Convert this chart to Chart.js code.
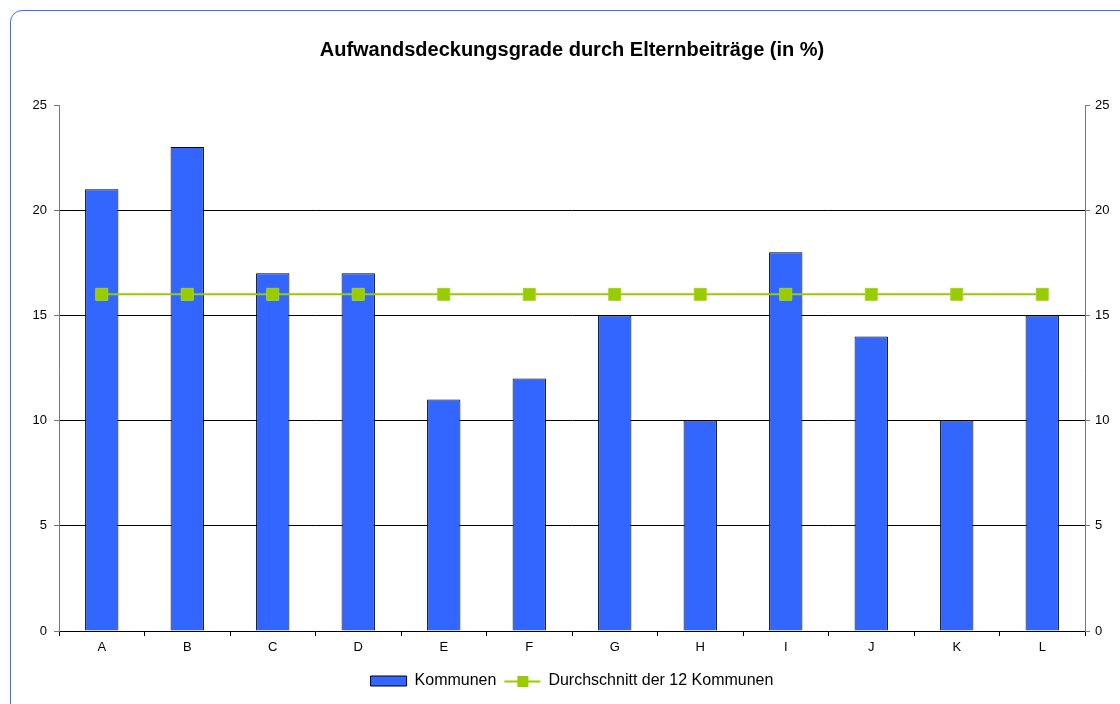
<!DOCTYPE html>
<html>
<head>
<meta charset="utf-8">
<script src="https://cdn.jsdelivr.net/npm/chart.js@4/dist/chart.umd.min.js"></script>
<style>
  html, body { margin:0; padding:0; background:#fff; overflow:hidden; }
  #frame { position:absolute; left:10px; top:10px; width:1140px; height:710px;
           border:1px solid #3f6bff; border-radius:12px; }
  #wrap { position:absolute; left:0; top:0; width:1120px; height:704px; }
</style>
</head>
<body>
<div id="frame"></div>
<div id="wrap"><canvas id="chart"></canvas></div>
<script>
const categories = ['A','B','C','D','E','F','G','H','I','J','K','L'];
const kommunen = [21, 23, 17, 17, 11, 12, 15, 10, 18, 14, 10, 15];
const durchschnitt = [16, 16, 16, 16, 16, 16, 16, 16, 16, 16, 16, 16];
const yTicks = [0, 5, 10, 15, 20, 25];

const title = 'Aufwandsdeckungsgrade durch Elternbeiträge (in %)';
const barLabel = 'Kommunen';
const lineLabel = 'Durchschnitt der 12 Kommunen';

const BLUE = '#3366ff';
const GREEN = '#99cc00';
const FONT = '"Liberation Sans", Arial, sans-serif';

// draws the line+marker sample for the average series in the legend
const legendLine = {
  id: 'legendLine',
  afterDraw(chart){
    const hb = chart.legend.legendHitBoxes[1];
    if(!hb) return;
    const ctx = chart.ctx;
    const y = Math.round(hb.top + 8) + 0.5;
    ctx.save();
    ctx.strokeStyle = GREEN; ctx.lineWidth = 2;
    ctx.beginPath(); ctx.moveTo(hb.left, y); ctx.lineTo(hb.left + 36, y); ctx.stroke();
    ctx.fillStyle = GREEN;
    ctx.fillRect(hb.left + 13, y - 5.5, 11, 11);
    ctx.restore();
  }
};

function yScale(pos, pad){
  return {
    type: 'linear', position: pos, min: 0, max: 25,
    afterBuildTicks: (s) => { s.ticks = yTicks.map(v => ({ value: v })); },
    afterFit: (s) => { s.width = pos === 'left' ? 59 : 35; },
    ticks: { color: '#000', font: { family: FONT, size: 13 }, padding: pad },
    grid: {
      drawOnChartArea: pos === 'left',
      color: (c) => (c.tick && (c.tick.value === 0 || c.tick.value === 25)) ? 'rgba(0,0,0,0)' : '#000',
      tickColor: '#777', tickLength: 5, lineWidth: 1
    },
    border: { color: '#777', width: 1 }
  };
}

new Chart(document.getElementById('chart'), {
  data: {
    labels: categories,
    datasets: [
      { type: 'bar', label: barLabel, data: kommunen, order: 1,
        backgroundColor: BLUE, borderColor: '#000', borderWidth: 1,
        barPercentage: 0.39, categoryPercentage: 1, yAxisID: 'y' },
      { type: 'line', label: lineLabel, data: durchschnitt, order: 0,
        borderColor: GREEN, borderWidth: 2, pointStyle: 'rect', pointRadius: 8.5,
        pointBackgroundColor: GREEN, pointBorderColor: '#a6d41e', pointBorderWidth: 1,
        tension: 0, yAxisID: 'y' }
    ]
  },
  options: {
    responsive: true, maintainAspectRatio: false, animation: false,
    layout: { padding: { left: 0, right: 0, top: 0, bottom: 5 } },
    scales: {
      x: {
        offset: true,
        afterFit: (s) => { s.height = 34; },
        ticks: { color: '#000', font: { family: FONT, size: 13 }, padding: 4 },
        grid: { offset: true, drawOnChartArea: false, tickLength: 5, color: '#000' },
        border: { color: '#000', width: 1 }
      },
      y: yScale('left', 7),
      y2: yScale('right', 5)
    },
    plugins: {
      title: {
        display: true, text: title, fullSize: false, color: '#000',
        font: { family: FONT, size: 20, weight: 'bold' },
        padding: { top: 38, bottom: 43 }
      },
      legend: {
        position: 'bottom', fullSize: false,
        labels: {
          color: '#000', font: { family: FONT, size: 16 },
          boxWidth: 36, boxHeight: 10, padding: 8,
          sort: (a, b) => a.datasetIndex - b.datasetIndex,
          generateLabels: (chart) => {
            const items = Chart.defaults.plugins.legend.labels.generateLabels(chart);
            items.forEach(it => {
              if(it.datasetIndex === 0){ it.fillStyle = BLUE; it.strokeStyle = '#000'; it.lineWidth = 1; }
              else { it.fillStyle = 'rgba(0,0,0,0)'; it.strokeStyle = 'rgba(0,0,0,0)'; it.lineWidth = 0; }
            });
            return items;
          }
        }
      },
      tooltip: { enabled: false }
    }
  },
  plugins: [legendLine]
});
</script>
</body>
</html>
